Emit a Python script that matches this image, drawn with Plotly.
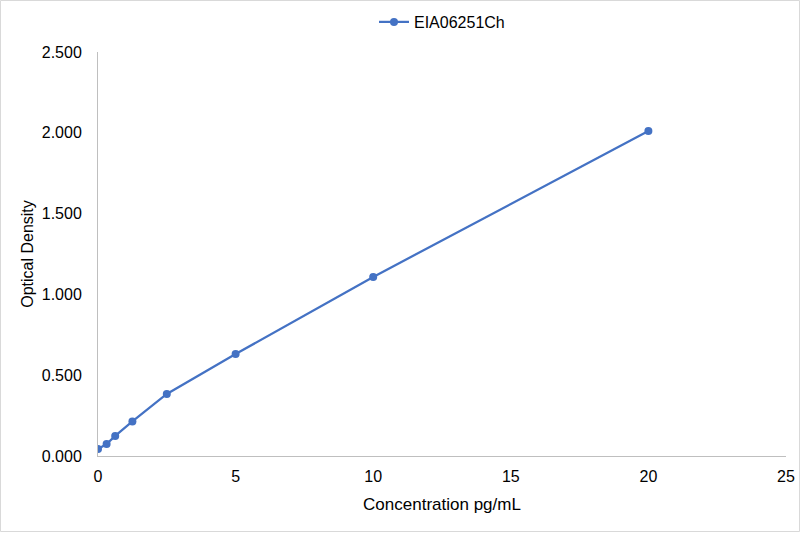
import plotly.graph_objects as go

concentration = [0, 0.3125, 0.625, 1.25, 2.5, 5, 10, 20]
optical_density = [0.043, 0.074, 0.124, 0.214, 0.384, 0.631, 1.108, 2.011]
series_name = "EIA06251Ch"

W, H = 801, 533
ml, mr, mt, mb = 98, 15, 52, 77

fig = go.Figure()
fig.add_trace(go.Scatter(
    x=concentration,
    y=optical_density,
    name=series_name,
    mode="lines+markers",
    line=dict(color="#4472C4", width=2.25),
    marker=dict(color="#4472C4", size=8),
))

fig.update_xaxes(
    range=[0, 25], dtick=5, tick0=0, automargin=False,
    showgrid=False, zeroline=False,
    showline=True, linecolor="#BFBFBF", linewidth=1,
    ticks="", ticklabelstandoff=6, tickfont=dict(size=16),
    title=dict(text="Concentration pg/mL", standoff=13, font=dict(size=17)),
)
fig.update_yaxes(
    range=[0, 2.5], dtick=0.5, tick0=0, tickformat=".3f", automargin=False,
    showgrid=False, zeroline=False,
    showline=True, linecolor="#BFBFBF", linewidth=1,
    ticks="", ticklabelstandoff=12, tickfont=dict(size=16),
    title=dict(text="Optical Density", standoff=4, font=dict(size=16)),
)

pw, ph = W - ml - mr, H - mt - mb
fig.add_shape(
    type="rect", xref="paper", yref="paper",
    x0=-(ml - 0.5) / pw, x1=1 + (mr - 1.5) / pw,
    y0=-(mb - 1.5) / ph, y1=1 + (mt - 0.5) / ph,
    line=dict(color="#D9D9D9", width=1),
)

fig.update_layout(
    width=W, height=H,
    margin=dict(l=ml, r=mr, t=mt, b=mb, autoexpand=False),
    plot_bgcolor="white", paper_bgcolor="white",
    font=dict(family="Liberation Sans, Arial, sans-serif", size=15, color="#000000"),
    showlegend=True,
    legend=dict(orientation="h", x=0.5, xanchor="center", y=1 + 30 / ph, yanchor="middle",
                font=dict(size=16)),
)

fig.write_html("out.html", config={"displayModeBar": False},
               post_script="document.body.style.margin='0';")
